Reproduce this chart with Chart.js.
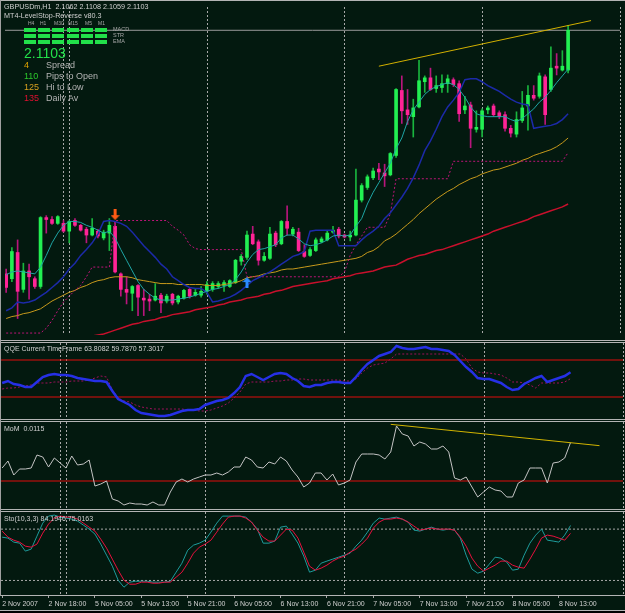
<!DOCTYPE html>
<html>
<head>
<meta charset="utf-8">
<title>GBPUSDm,H1</title>
<script src="https://cdn.jsdelivr.net/npm/chart.js@4.4.1/dist/chart.umd.min.js"></script>
<style>
  html, body { margin: 0; padding: 0; background: #000; }
  #wrap { position: relative; width: 625px; height: 611px; background: #03190f; overflow: hidden;
          font-family: 'Liberation Sans', Arial, sans-serif; }
  canvas { position: absolute; left: 0; }
  .rule { position: absolute; left: 0; width: 625px; height: 1px; background: #b4b4b4; z-index: 3; }
  .txt { position: absolute; white-space: pre; line-height: 1; color: #d0d0d0; font-size: 7px; z-index: 4; }
  .cell { position: absolute; width: 12px; height: 4px; background: #22e04a; z-index: 4; }
</style>
</head>
<body>
<div id="wrap">
  <canvas id="mainChart" width="625" height="338" style="top:2px"></canvas>
  <canvas id="qqeChart" width="625" height="76" style="top:343px"></canvas>
  <canvas id="momChart" width="625" height="87" style="top:422px"></canvas>
  <canvas id="stoChart" width="625" height="101" style="top:512px"></canvas>

  <div class="txt" style="left:4px;top:3px;font-size:7.2px">GBPUSDm,H1  2.1062 2.1108 2.1059 2.1103</div>
  <div class="txt" style="left:4px;top:12px;font-size:7.2px">MT4-LevelStop-Reverse v80.3</div>
  <div class="txt" style="left:24px;top:46px;font-size:14px;color:#22e04a">2.1103</div>
  <div class="txt" style="left:4px;top:345px">QQE Current TimeFrame 63.8082 59.7870 57.3017</div>
  <div class="txt" style="left:4px;top:425px">MoM  0.0115</div>
  <div class="txt" style="left:4px;top:515px">Sto(10,3,3) 84.1946 75.0163</div>
</div>

<script>
// ---- price bars (GBPUSDm H1, 2 Nov 2007 10:00 .. 8 Nov 2007 16:00)
const barOpen = [
  2.0852,2.0847,2.0874,2.0836,2.0855,2.0847,2.0839,2.0910,2.0908,2.0904,
  2.0904,2.0896,2.0907,2.0902,2.0898,2.0892,2.0896,2.0889,2.0894,2.0901,
  2.0852,2.0836,2.0832,2.0840,2.0827,2.0826,2.0825,2.0830,2.0824,2.0831,
  2.0823,2.0827,2.0836,2.0830,2.0830,2.0834,2.0836,2.0839,2.0840,2.0839,
  2.0843,2.0865,2.0869,2.0893,2.0885,2.0866,2.0868,2.0894,2.0883,2.0906,
  2.0893,2.0895,2.0875,2.0871,2.0876,2.0885,2.0887,2.0895,2.0898,2.0892,
  2.0890,2.0892,2.0928,2.0941,2.0951,2.0960,2.0956,2.0954,2.0974,2.1041,
  2.1021,2.1014,2.1024,2.1050,2.1054,2.1043,2.1044,2.1048,2.1052,2.1048,
  2.1021,2.1026,2.1001,2.1001,2.1021,2.1025,2.1018,2.1016,2.1002,2.0996,
  2.1010,2.1025,2.1036,2.1035,2.1055,2.1042,2.1066,2.1062,2.1062];
const barHigh = [
  2.0857,2.0879,2.0887,2.0863,2.0862,2.0849,2.0911,2.0912,2.0911,2.0912,
  2.0907,2.0907,2.0909,2.0903,2.0900,2.0909,2.0898,2.0897,2.0909,2.0905,
  2.0853,2.0849,2.0840,2.0841,2.0836,2.0831,2.0842,2.0832,2.0831,2.0832,
  2.0830,2.0836,2.0837,2.0836,2.0839,2.0844,2.0844,2.0844,2.0845,2.0846,
  2.0867,2.0872,2.0896,2.0901,2.0887,2.0874,2.0900,2.0896,2.0907,2.0922,
  2.0900,2.0899,2.0882,2.0879,2.0889,2.0890,2.0896,2.0901,2.0900,2.0893,
  2.0896,2.0960,2.0945,2.0954,2.0961,2.0966,2.0965,2.0977,2.1043,2.1056,
  2.1042,2.1032,2.1072,2.1056,2.1064,2.1056,2.1057,2.1057,2.1054,2.1051,
  2.1035,2.1029,2.1020,2.1022,2.1025,2.1027,2.1020,2.1019,2.1005,2.1019,
  2.1040,2.1046,2.1046,2.1059,2.1057,2.1086,2.1079,2.1082,2.1108];
const barLow = [
  2.0833,2.0844,2.0806,2.0833,2.0826,2.0837,2.0837,2.0894,2.0903,2.0903,
  2.0895,2.0884,2.0901,2.0896,2.0884,2.0891,2.0889,2.0887,2.0876,2.0853,
  2.0829,2.0821,2.0814,2.0809,2.0809,2.0814,2.0824,2.0812,2.0822,2.0820,
  2.0821,2.0826,2.0827,2.0829,2.0828,2.0831,2.0834,2.0837,2.0834,2.0838,
  2.0842,2.0861,2.0867,2.0882,2.0861,2.0865,2.0867,2.0880,2.0882,2.0892,
  2.0891,2.0875,2.0869,2.0870,2.0875,2.0884,2.0886,2.0894,2.0889,2.0889,
  2.0886,2.0891,2.0926,2.0939,2.0949,2.0949,2.0942,2.0953,2.0972,2.1007,
  2.1006,2.0993,2.1023,2.1039,2.1041,2.1039,2.1039,2.1039,2.1045,2.1009,
  2.1017,2.0982,2.0998,2.0993,2.1017,2.1014,2.1012,2.0999,2.0993,2.0993,
  2.1008,2.1000,2.1031,2.1033,2.1006,2.1040,2.1057,2.1061,2.1059];
const barClose = [
  2.0838,2.0875,2.0834,2.0855,2.0849,2.0839,2.0910,2.0908,2.0904,2.0911,
  2.0896,2.0906,2.0902,2.0897,2.0892,2.0899,2.0891,2.0895,2.0902,2.0854,
  2.0836,2.0833,2.0839,2.0828,2.0825,2.0824,2.0829,2.0822,2.0829,2.0822,
  2.0829,2.0835,2.0829,2.0833,2.0834,2.0841,2.0842,2.0842,2.0843,2.0845,
  2.0866,2.0870,2.0892,2.0883,2.0866,2.0870,2.0893,2.0882,2.0906,2.0899,
  2.0898,2.0876,2.0870,2.0877,2.0887,2.0888,2.0894,2.0897,2.0891,2.0890,
  2.0892,2.0928,2.0943,2.0952,2.0958,2.0957,2.0953,2.0976,2.1042,2.1020,
  2.1016,2.1023,2.1051,2.1054,2.1042,2.1046,2.1048,2.1053,2.1047,2.1017,
  2.1025,2.1002,2.1003,2.1020,2.1023,2.1016,2.1014,2.1002,2.0997,2.1011,
  2.1023,2.1036,2.1033,2.1056,2.1016,2.1064,2.1064,2.1066,2.1103];

// ---- moving averages and the LevelStop line
const fastMa = [
  2.0851,2.0854,2.0855,2.0854,2.0853,2.0852,2.0859,2.0871,2.0884,2.0894,
  2.0902,2.0906,2.0906,2.0905,2.0902,2.0900,2.0897,2.0894,2.0896,2.0889,
  2.0877,2.0866,2.0855,2.0844,2.0836,2.0831,2.0827,2.0825,2.0825,2.0825,
  2.0826,2.0827,2.0828,2.0830,2.0832,2.0834,2.0836,2.0837,2.0839,2.0841,
  2.0846,2.0854,2.0864,2.0872,2.0877,2.0878,2.0880,2.0882,2.0889,2.0892,
  2.0892,2.0888,2.0883,2.0881,2.0882,2.0884,2.0887,2.0891,2.0892,2.0891,
  2.0892,2.0901,2.0909,2.0924,2.0936,2.0946,2.0956,2.0966,2.0981,2.0992,
  2.1009,2.1021,2.1029,2.1037,2.1042,2.1045,2.1047,2.1049,2.1047,2.1042,
  2.1034,2.1024,2.1017,2.1015,2.1014,2.1014,2.1014,2.1014,2.1011,2.1009,
  2.1012,2.1017,2.1022,2.1029,2.1034,2.1041,2.1049,2.1056,2.1063];
const midMa = [
  2.0814,2.0817,2.0823,2.0822,2.0823,2.0825,2.0829,2.0833,2.0838,2.0843,
  2.0849,2.0857,2.0863,2.0871,2.0877,2.0884,2.0893,2.0906,2.0907,2.0906,
  2.0904,2.0901,2.0895,2.0888,2.0881,2.0875,2.0869,2.0862,2.0857,2.0849,
  2.0845,2.0841,2.0838,2.0837,2.0837,2.0833,2.0823,2.0824,2.0826,2.0828,
  2.0831,2.0835,2.0840,2.0845,2.0848,2.0851,2.0854,2.0858,2.0862,2.0866,
  2.0870,2.0872,2.0875,2.0896,2.0897,2.0897,2.0897,2.0897,2.0881,2.0881,
  2.0881,2.0881,2.0887,2.0892,2.0896,2.0901,2.0909,2.0915,2.0923,2.0931,
  2.0940,2.0951,2.0964,2.0979,2.0989,2.1001,2.1014,2.1024,2.1031,2.1039,
  2.1052,2.1053,2.1053,2.1050,2.1046,2.1043,2.1040,2.1036,2.1032,2.1029,
  2.1027,2.1026,2.1002,2.1003,2.1004,2.1005,2.1007,2.1011,2.1017];
const slowMa = [
  2.0806,2.0808,2.0809,2.0811,2.0812,2.0814,2.0816,2.0820,2.0824,2.0827,
  2.0830,2.0833,2.0835,2.0838,2.0840,2.0843,2.0845,2.0846,2.0848,2.0849,
  2.0849,2.0849,2.0848,2.0846,2.0845,2.0844,2.0843,2.0842,2.0842,2.0842,
  2.0841,2.0841,2.0841,2.0841,2.0841,2.0840,2.0840,2.0840,2.0841,2.0842,
  2.0843,2.0845,2.0848,2.0849,2.0850,2.0852,2.0853,2.0854,2.0856,2.0857,
  2.0857,2.0858,2.0859,2.0860,2.0861,2.0862,2.0863,2.0864,2.0865,2.0866,
  2.0867,2.0868,2.0870,2.0874,2.0876,2.0880,2.0886,2.0889,2.0893,2.0898,
  2.0903,2.0908,2.0914,2.0919,2.0924,2.0929,2.0933,2.0937,2.0940,2.0944,
  2.0947,2.0950,2.0952,2.0955,2.0957,2.0959,2.0960,2.0962,2.0964,2.0966,
  2.0969,2.0971,2.0974,2.0976,2.0978,2.0980,2.0983,2.0987,2.0992];
const longMa = [
  2.0765,2.0767,2.0768,2.0770,2.0771,2.0773,2.0774,2.0776,2.0777,2.0779,
  2.0780,2.0782,2.0783,2.0785,2.0786,2.0788,2.0789,2.0790,2.0792,2.0794,
  2.0796,2.0798,2.0800,2.0801,2.0803,2.0804,2.0805,2.0807,2.0808,2.0810,
  2.0811,2.0812,2.0813,2.0815,2.0816,2.0817,2.0818,2.0820,2.0821,2.0823,
  2.0824,2.0825,2.0827,2.0828,2.0829,2.0831,2.0832,2.0834,2.0835,2.0837,
  2.0839,2.0840,2.0841,2.0842,2.0843,2.0844,2.0845,2.0847,2.0848,2.0849,
  2.0850,2.0852,2.0853,2.0854,2.0855,2.0857,2.0859,2.0860,2.0861,2.0864,
  2.0867,2.0869,2.0871,2.0872,2.0874,2.0876,2.0877,2.0879,2.0881,2.0883,
  2.0885,2.0887,2.0889,2.0891,2.0893,2.0896,2.0898,2.0900,2.0902,2.0904,
  2.0906,2.0908,2.0911,2.0913,2.0915,2.0917,2.0919,2.0921,2.0924];
const levelStop = [
  2.0791,2.0791,2.0791,2.0791,2.0791,2.0791,2.0791,2.0796,2.0804,2.0814,
  2.0823,2.0829,2.0835,2.0840,2.0849,2.0859,2.0859,2.0859,2.0859,2.0907,
  2.0907,2.0907,2.0907,2.0907,2.0907,2.0907,2.0907,2.0907,2.0907,2.0901,
  2.0897,2.0892,2.0882,2.0878,2.0877,2.0877,2.0877,2.0877,2.0877,2.0877,
  2.0877,2.0877,2.0849,2.0849,2.0849,2.0849,2.0849,2.0849,2.0849,2.0849,
  2.0849,2.0849,2.0849,2.0849,2.0849,2.0849,2.0849,2.0849,2.0849,2.0854,
  2.0871,2.0882,2.0891,2.0900,2.0900,2.0900,2.0900,2.0914,2.0950,2.0950,
  2.0950,2.0950,2.0950,2.0950,2.0950,2.0950,2.0950,2.0950,2.0968,2.0968,
  2.0968,2.0968,2.0968,2.0968,2.0968,2.0968,2.0968,2.0968,2.0968,2.0968,
  2.0968,2.0968,2.0968,2.0968,2.0968,2.0968,2.0968,2.0968,2.0977];
const bidPrice = 2.1103;
const sellArrows = [{ bar: 19, price: 2.0913 }];
const buyArrows = [{ bar: 42, price: 2.0843 }];
const priceTrend = [{ bar: 65, price: 2.1066 }, { bar: 102, price: 2.1113 }];

// ---- QQE
const qqeLine = [
  53,55,52,51,49,49,54,59,61,62, 61,61,60,58,57,56,55,55,54,45,
  37,34,31,26,23,22,21,20,20,21, 23,25,26,26,27,31,33,35,36,38,
  43,49,60,62,59,56,59,62,63,62, 58,55,50,49,51,51,53,54,54,53,
  53,59,66,72,76,80,82,84,90,88, 87,87,88,89,87,87,86,85,81,75,
  69,64,58,57,57,55,53,49,46,47, 52,55,58,60,54,56,58,60,63.8];
const qqeSignal = [
  47,48,48,49,50,51,53,53,53,54, 54,54,55,55,55,56,58,60,59,46,
  38,35,34,31,29,28,27,27,27,27, 27,27,26,26,25,25,26,28,30,33,
  38,44,52,54,54,54,54,55,55,56, 56,57,57,56,56,56,56,56,56,55,
  55,57,63,68,71,72,73,77,82,82, 82,82,82,82,82,82,82,82,82,82,
  77,68,64,63,63,62,61,58,54,54, 53,51,48,53,53,53,53,54,57.3];
const qqeLevels = [76, 39];

// ---- MoM
const momLine = [
  0.0039,0.0060,0.0018,0.0036,0.0036,0.0039,0.0078,0.0072,0.0042,0.0069,
  0.0054,0.0039,0.0075,0.0048,0.0051,0.0063,-0.0015,-0.0009,0.0000,-0.0054,
  -0.0060,-0.0072,-0.0066,-0.0069,-0.0069,-0.0072,-0.0063,-0.0072,-0.0072,-0.0033,
  -0.0003,0.0006,-0.0003,0.0006,0.0012,0.0018,0.0018,0.0024,0.0018,0.0027,
  0.0042,0.0042,0.0072,0.0063,0.0042,0.0039,0.0057,0.0051,0.0072,0.0060,
  0.0033,0.0012,-0.0018,-0.0006,0.0024,0.0024,0.0003,0.0021,-0.0012,-0.0006,
  0.0003,0.0057,0.0081,0.0081,0.0081,0.0078,0.0066,0.0087,0.0165,0.0141,
  0.0135,0.0105,0.0117,0.0111,0.0096,0.0096,0.0105,0.0087,0.0009,0.0003,
  0.0012,-0.0018,-0.0048,-0.0033,-0.0018,-0.0027,-0.0030,-0.0048,-0.0048,-0.0006,
  0.0003,0.0039,0.0039,0.0039,-0.0006,0.0054,0.0057,0.0069,0.0115];
const momLevel = 0;
const momTrend = [{ bar: 67, value: 0.0170 }, { bar: 103, value: 0.0106 }];

// ---- Stochastic (10,3,3)
const stochMain = [
  70.6,69.5,64.8,63.6,54.3,56.6,71.8,87.0,95.2,96.4,
  94.0,92.9,91.7,89.4,84.7,80.0,74.2,62.5,49.6,36.7,
  20.3,12.1,18.0,19.1,19.1,19.1,18.0,18.0,18.0,19.1,
  29.7,40.2,55.4,61.3,63.6,67.1,76.5,87.0,95.2,95.2,
  95.2,95.2,94.0,88.2,80.0,63.6,63.6,66.0,82.3,83.5,
  74.2,63.6,48.4,29.7,32.0,40.2,42.6,44.9,47.2,49.6,
  51.9,60.1,67.1,76.5,87.0,92.9,91.7,92.9,94.0,91.7,
  88.2,78.8,77.7,80.0,82.3,80.0,78.8,80.0,78.8,69.5,
  49.6,33.2,28.5,30.9,39.1,47.2,46.1,41.4,32.0,33.2,
  49.6,63.6,73.0,80.0,67.1,66.0,64.8,73.0,84.2];
const stochSignal = [
  77.7,70.6,67.1,64.8,60.1,58.9,62.5,75.3,85.9,92.9,
  95.2,94.0,94.0,91.7,87.0,82.3,77.7,68.3,57.8,44.9,
  32.0,20.3,15.6,15.6,18.0,18.0,16.8,16.8,18.0,18.0,
  23.8,29.7,40.2,51.9,58.9,62.5,67.1,76.5,85.9,94.0,
  95.2,95.2,92.9,88.2,78.8,70.6,66.0,66.0,73.0,80.0,
  78.8,69.5,53.1,36.7,32.0,34.4,37.9,42.6,46.1,48.4,
  53.1,56.6,62.5,69.5,81.2,88.2,91.7,91.7,92.9,91.7,
  88.2,83.5,78.8,80.0,81.2,80.0,80.0,80.0,78.8,70.6,
  60.1,46.1,36.7,30.9,34.4,37.9,42.6,42.6,37.9,35.5,
  34.4,44.9,56.6,69.5,73.0,71.8,69.5,67.1,75.0];
const stochLevels = [80, 20];

// ---- time axis
const tickBars = [0, 8, 16, 24, 32, 40, 48, 56, 64, 72, 80, 88, 96];
const tickLabels = ['2 Nov 2007', '2 Nov 18:00', '5 Nov 05:00', '5 Nov 13:00', '5 Nov 21:00',
  '6 Nov 05:00', '6 Nov 13:00', '6 Nov 21:00', '7 Nov 05:00', '7 Nov 13:00',
  '7 Nov 21:00', '8 Nov 05:00', '8 Nov 13:00'];
const separatorBars = [10, 11, 35, 59, 83, 107];

const X_MIN = -0.2, X_MAX = 107.05;
Chart.defaults.font.family = "'Liberation Sans', Arial, sans-serif";

function series(values) { return values.map((v, i) => ({ x: i, y: v })); }
function span(value) { return [{ x: X_MIN, y: value }, { x: X_MAX, y: value }]; }
function lineSet(data, color, width, dash, order) {
  return { type: 'line', data: data, borderColor: color, borderWidth: width, borderDash: dash || [],
           pointRadius: 0, tension: 0, order: order, borderCapStyle: 'butt' };
}

// day separators, dotted, behind everything
const separators = {
  id: 'separators',
  beforeDatasetsDraw(chart) {
    const { ctx, chartArea, scales } = chart;
    ctx.save();
    ctx.strokeStyle = '#a8a8a8';
    ctx.lineWidth = 1;
    ctx.setLineDash([2, 2]);
    separatorBars.forEach(b => {
      const x = Math.round(scales.x.getPixelForValue(b)) + 0.5;
      ctx.beginPath();
      ctx.moveTo(x, chartArea.top);
      ctx.lineTo(x, chartArea.bottom);
      ctx.stroke();
    });
    ctx.restore();
  }
};

function options(yMin, yMax, withAxis) {
  return {
    responsive: false,
    animation: false,
    events: [],
    layout: { padding: { left: 1, right: 2, top: 0, bottom: 0 } },
    plugins: { legend: { display: false }, tooltip: { enabled: false } },
    scales: {
      x: {
        type: 'linear', min: X_MIN, max: X_MAX, offset: false, display: withAxis,
        afterBuildTicks: axis => { axis.ticks = tickBars.map(v => ({ value: v })); },
        afterFit: axis => { axis.height = withAxis ? 18 : 0; },
        grid: { drawOnChartArea: false, drawTicks: true, tickLength: 3, color: '#a8a8a8' },
        border: { display: false },
        ticks: { align: 'start', maxRotation: 0, autoSkip: false, padding: 2, color: '#d0d0d0',
                 font: { size: 7 }, callback: (v, i) => tickLabels[i] }
      },
      y: { display: false, min: yMin, max: yMax }
    }
  };
}

function arrowImage(color, down) {
  const c = document.createElement('canvas');
  c.width = 9; c.height = 11;
  const g = c.getContext('2d');
  const pts = [[4.5, 0], [9, 5], [6, 5], [6, 11], [3, 11], [3, 5], [0, 5]];
  g.fillStyle = color;
  g.beginPath();
  pts.forEach(([px, py], k) => {
    const yy = down ? 11 - py : py;
    if (k) g.lineTo(px, yy); else g.moveTo(px, yy);
  });
  g.closePath();
  g.fill();
  return c;
}

// ---- main price window
const bull = barOpen.map((o, i) => barClose[i] >= o);
new Chart(document.getElementById('mainChart'), {
  type: 'bar',
  data: {
    datasets: [
      lineSet(span(bidPrice), '#9a9a9a', 1, [], 9),
      { type: 'bar', data: barLow.map((l, i) => ({ x: i, y: [l, barHigh[i]] })), grouped: false,
        barThickness: 1, backgroundColor: bull.map(b => b ? '#19b53e' : '#b8157c'), order: 8 },
      { type: 'bar', data: barOpen.map((o, i) => ({ x: i, y: [Math.min(o, barClose[i]), Math.max(o, barClose[i])] })),
        grouped: false, barThickness: 3, backgroundColor: bull.map(b => b ? '#22f052' : '#ff2496'), order: 7 },
      lineSet(series(longMa), '#c8102c', 1.5, [], 6),
      lineSet(series(slowMa), '#c89a1c', 1, [], 5),
      lineSet(series(levelStop), '#c0147a', 1, [2, 2], 4),
      lineSet(series(midMa), '#1c2aa8', 1.5, [], 3),
      lineSet(series(fastMa), '#1fa6a6', 1, [], 2),
      lineSet(priceTrend.map(p => ({ x: p.bar, y: p.price })), '#d2b000', 1, [], 1),
      { type: 'line', showLine: false, data: sellArrows.map(a => ({ x: a.bar, y: a.price })),
        pointStyle: arrowImage('#ff5a14', true), order: 0 },
      { type: 'line', showLine: false, data: buyArrows.map(a => ({ x: a.bar, y: a.price })),
        pointStyle: arrowImage('#2a8cff', false), order: 0 }
    ]
  },
  options: options(2.0789, 2.1127, false),
  plugins: [separators]
});

// ---- QQE window
new Chart(document.getElementById('qqeChart'), {
  type: 'line',
  data: {
    datasets: [
      lineSet(span(qqeLevels[0]), '#e00c0c', 1, [], 4),
      lineSet(span(qqeLevels[1]), '#e00c0c', 1, [], 4),
      lineSet(series(qqeSignal), '#a0105c', 1, [2, 2], 2),
      lineSet(series(qqeLine), '#2630e6', 2.5, [], 1)
    ]
  },
  options: options(17, 93, false),
  plugins: [separators]
});

// ---- MoM window
new Chart(document.getElementById('momChart'), {
  type: 'line',
  data: {
    datasets: [
      lineSet(span(momLevel), '#e00c0c', 1, [], 3),
      lineSet(series(momLine), '#c4c4c4', 1, [], 2),
      lineSet(momTrend.map(p => ({ x: p.bar, y: p.value })), '#d2b400', 1, [], 1)
    ]
  },
  options: options(-0.0084, 0.0177, false),
  plugins: [separators]
});

// ---- Stochastic window with the time axis
const levelDash = [2, 2];
new Chart(document.getElementById('stoChart'), {
  type: 'line',
  data: {
    datasets: [
      lineSet(span(stochLevels[0]), '#a8a8a8', 1, levelDash, 4),
      lineSet(span(stochLevels[1]), '#a8a8a8', 1, levelDash, 4),
      lineSet(series(stochMain), '#1e9c9c', 1, [], 2),
      lineSet(series(stochSignal), '#e8103e', 1, [], 1)
    ]
  },
  options: options(3, 100, true),
  plugins: [separators]
});

// ---- window frame and the corner info block
const wrap = document.getElementById('wrap');
[0, 340, 342, 419, 421, 509, 511, 595, 610].forEach(y => {
  const d = document.createElement('div');
  d.className = 'rule';
  d.style.top = y + 'px';
  wrap.appendChild(d);
});
const left = document.createElement('div');
left.style.cssText = 'position:absolute;left:0;top:0;width:1px;height:596px;background:#a0a0a0;z-index:3';
wrap.appendChild(left);

const tfNames = ['H4', 'H1', 'M30', 'M15', 'M5', 'M1'];
const tfLeft = [28, 40, 54, 68, 85, 98];
const signalRows = ['MACD', 'STR', 'EMA'];
tfNames.forEach((n, i) => {
  const t = document.createElement('div');
  t.className = 'txt';
  t.style.cssText = `left:${tfLeft[i]}px;top:21px;font-size:5px;color:#a8a8a8`;
  t.textContent = n;
  wrap.appendChild(t);
  signalRows.forEach((r, j) => {
    const c = document.createElement('div');
    c.className = 'cell';
    c.style.left = (24 + i * 14.2) + 'px';
    c.style.top = (28 + j * 6) + 'px';
    wrap.appendChild(c);
  });
});
signalRows.forEach((r, j) => {
  const t = document.createElement('div');
  t.className = 'txt';
  t.style.cssText = `left:113px;top:${27 + j * 6}px;font-size:5.5px;color:#a8a8a8`;
  t.textContent = r;
  wrap.appendChild(t);
});

const infoRows = [
  { value: '4', color: '#e0a400', label: 'Spread' },
  { value: '110', color: '#2cc82c', label: 'Pips to Open' },
  { value: '125', color: '#d8a020', label: 'Hi to Low' },
  { value: '135', color: '#e01030', label: 'Daily Av' }
];
infoRows.forEach((r, j) => {
  const v = document.createElement('div');
  v.className = 'txt';
  v.style.cssText = `left:24px;top:${61 + j * 11}px;font-size:9px;color:${r.color}`;
  v.textContent = r.value;
  wrap.appendChild(v);
  const l = document.createElement('div');
  l.className = 'txt';
  l.style.cssText = `left:46px;top:${61 + j * 11}px;font-size:9px;color:#b4b4b4`;
  l.textContent = r.label;
  wrap.appendChild(l);
});
</script>
</body>
</html>
